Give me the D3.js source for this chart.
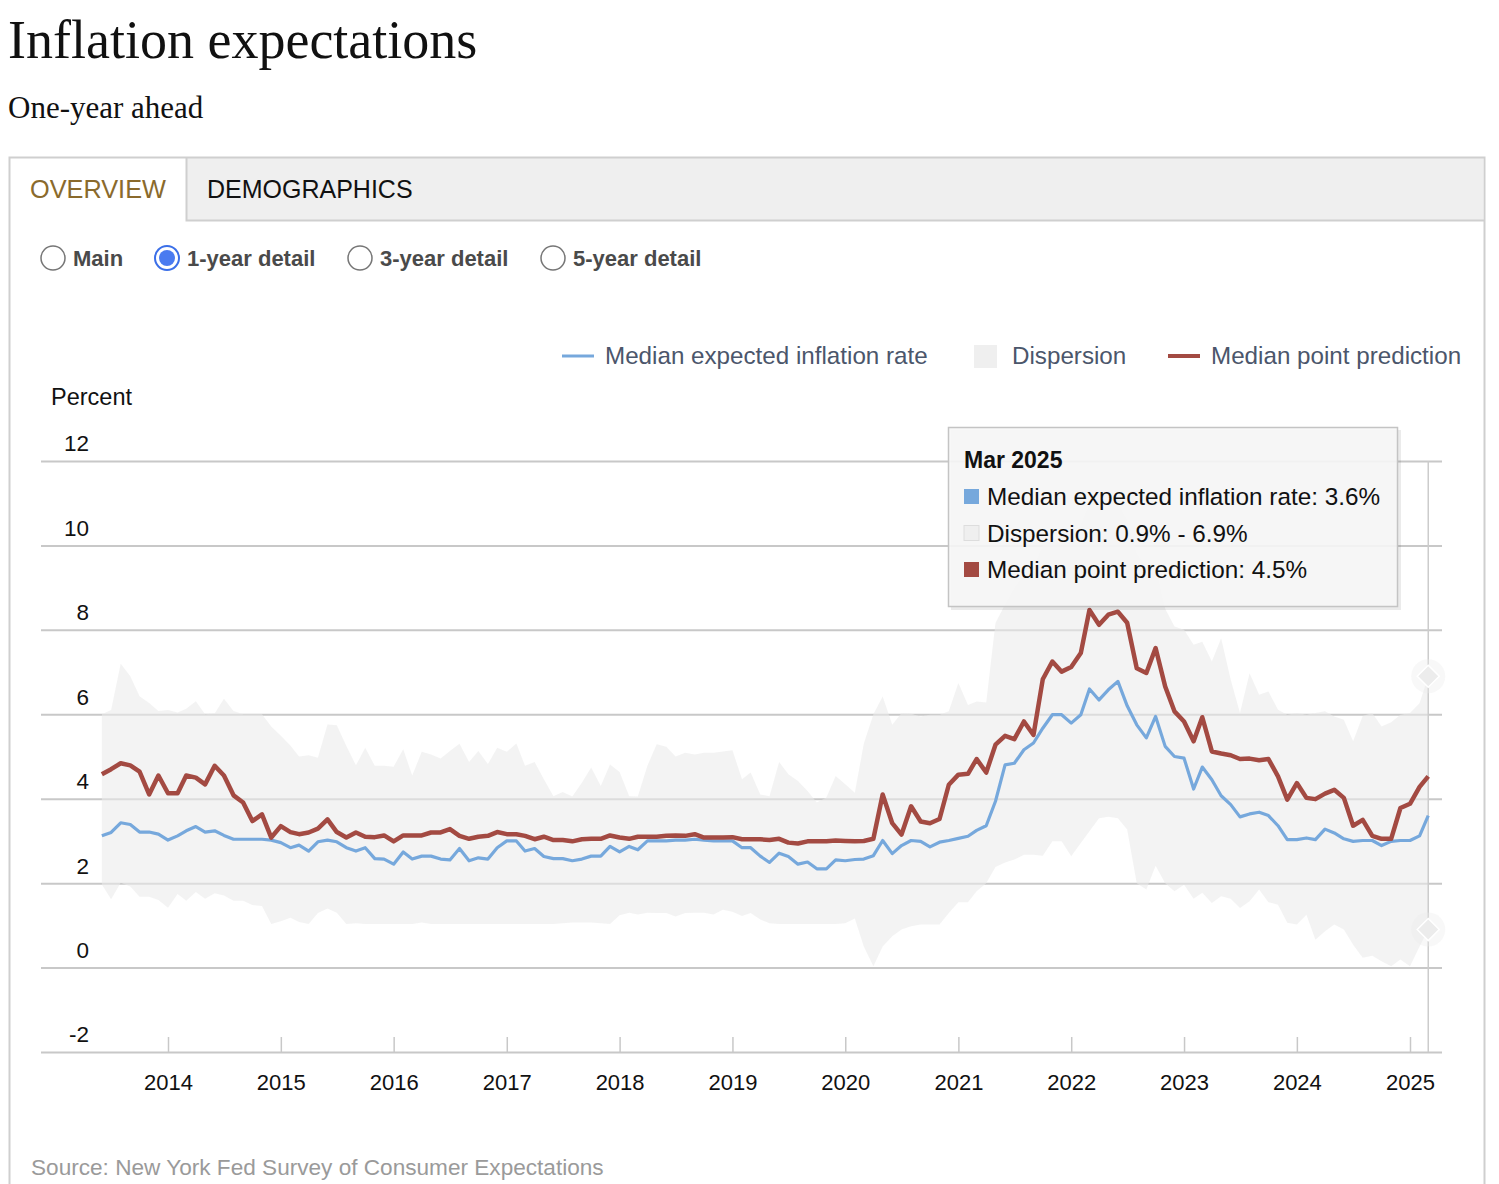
<!DOCTYPE html>
<html><head><meta charset="utf-8">
<script src="https://cdn.jsdelivr.net/npm/d3@7/dist/d3.min.js"></script>
<style>body{margin:0;background:#fff;} svg{display:block;}</style>
</head><body>
<svg id="c" width="1499" height="1184"></svg>
<script>
// ---- data (monthly, Jun 2013 - Mar 2025) ----
const startYear = 2013, startMonth = 5; // June 2013
const medianExpected = [
3.12,3.20,3.43,3.39,3.21,3.21,3.16,3.02,3.12,3.24,3.34,3.21,3.24,3.13,3.04,3.04,3.04,3.04,3.02,2.96,
2.84,2.90,2.76,2.98,3.02,2.98,2.84,2.76,2.84,2.58,2.57,2.45,2.74,2.57,2.64,2.64,2.57,2.55,2.82,2.53,
2.60,2.57,2.84,3.00,3.00,2.76,2.82,2.63,2.58,2.58,2.53,2.57,2.64,2.64,2.87,2.74,2.87,2.79,3.00,3.00,
3.00,3.02,3.02,3.04,3.02,3.00,3.00,3.00,2.84,2.84,2.64,2.49,2.71,2.63,2.45,2.50,2.34,2.34,2.55,2.53,
2.56,2.57,2.65,3.01,2.70,2.89,3.01,2.99,2.86,2.97,3.01,3.06,3.11,3.25,3.36,3.94,4.80,4.84,5.16,5.32,
5.67,5.99,5.99,5.79,5.99,6.60,6.34,6.58,6.78,6.20,5.75,5.44,5.95,5.24,5.00,4.96,4.23,4.75,4.45,4.07,
3.86,3.57,3.64,3.68,3.60,3.36,3.03,3.03,3.07,3.03,3.28,3.19,3.05,2.99,3.01,3.01,2.89,2.99,3.01,3.01,
3.12,3.60];
const pointPrediction = [
4.58,4.70,4.84,4.79,4.64,4.10,4.55,4.13,4.13,4.55,4.50,4.34,4.78,4.55,4.08,3.91,3.47,3.63,3.08,3.35,
3.21,3.16,3.20,3.29,3.51,3.21,3.08,3.20,3.10,3.09,3.13,2.99,3.13,3.13,3.13,3.20,3.20,3.28,3.12,3.05,
3.10,3.12,3.21,3.16,3.16,3.12,3.04,3.10,3.02,3.02,2.99,3.04,3.05,3.05,3.13,3.08,3.05,3.10,3.10,3.10,
3.12,3.13,3.12,3.16,3.08,3.08,3.08,3.09,3.04,3.04,3.04,3.02,3.05,2.96,2.94,2.99,2.99,2.99,3.01,3.00,
2.99,3.00,3.05,4.10,3.42,3.15,3.82,3.46,3.42,3.52,4.33,4.57,4.59,4.94,4.62,5.28,5.49,5.41,5.83,5.51,
6.83,7.25,7.01,7.12,7.45,8.47,8.12,8.36,8.43,8.17,7.09,6.98,7.57,6.66,6.07,5.83,5.36,5.93,5.12,5.07,
5.03,4.94,4.95,4.91,4.94,4.53,3.98,4.37,4.02,3.99,4.12,4.21,4.02,3.36,3.50,3.12,3.05,3.05,3.78,3.88,
4.28,4.53];
const dispersionLow = [
1.97,1.62,2.01,1.92,1.68,1.68,1.60,1.42,1.74,1.58,1.79,1.63,1.76,1.71,1.58,1.58,1.48,1.46,1.03,1.10,
1.18,1.08,1.03,1.29,1.40,1.30,1.03,1.05,1.03,1.03,1.03,1.03,1.03,1.03,1.07,1.03,1.03,1.03,1.03,1.03,
1.03,1.03,1.03,1.03,1.03,1.03,1.03,1.03,1.03,1.05,1.07,1.07,1.07,1.05,1.03,1.24,1.30,1.26,1.30,1.29,
1.29,1.21,1.29,1.30,1.30,1.26,1.37,1.32,1.22,1.29,1.14,1.05,1.03,1.03,1.03,1.03,1.03,1.03,1.03,1.05,
1.16,0.50,0.03,0.50,0.74,0.90,0.98,1.02,1.02,1.02,1.29,1.55,1.55,1.81,2.00,2.38,2.49,2.56,2.67,2.67,
2.65,2.99,2.99,2.64,2.95,3.23,3.54,3.57,3.54,3.27,2.00,1.85,2.41,2.00,1.81,1.96,1.63,1.77,1.53,1.69,
1.63,1.41,1.57,1.85,1.55,1.49,1.06,1.02,1.25,0.66,0.86,1.02,0.90,0.54,0.23,0.28,0.15,0.03,0.19,0.03,
0.50,0.90];
const dispersionHigh = [
6.00,6.10,7.20,6.90,6.43,6.27,6.08,6.10,6.04,6.13,6.31,6.00,6.02,6.37,6.08,6.00,6.00,6.00,5.71,5.49,
5.26,5.00,5.03,4.97,5.76,5.74,5.25,4.79,5.21,4.78,4.78,4.76,5.17,4.55,5.11,5.05,4.95,5.13,5.30,4.87,
5.13,4.82,5.21,5.11,5.31,4.78,4.87,4.46,4.06,4.16,4.05,4.38,4.74,4.30,4.81,4.63,4.06,4.05,4.78,5.29,
5.23,5.00,5.09,5.05,5.09,5.09,5.12,5.15,4.46,4.62,4.10,4.06,4.87,4.58,4.42,4.18,3.91,4.03,4.54,4.34,
4.14,5.30,6.00,6.42,5.75,6.03,6.01,5.95,5.99,5.99,6.07,6.74,6.22,6.30,6.28,8.16,8.60,9.00,9.30,9.50,
10.0,10.2,10.0,10.1,10.5,11.0,11.0,11.2,11.0,10.6,9.80,9.50,9.50,8.50,8.08,8.00,7.65,7.72,7.25,7.80,
6.82,6.03,6.97,6.46,6.54,6.11,5.99,6.03,5.99,6.03,6.07,5.95,5.87,5.36,5.96,6.03,5.71,5.81,5.99,6.03,
6.26,6.90];
const yTickValues = [-2, 0, 2, 4, 6, 8, 10, 12];
const xTickYears = [2014,2015,2016,2017,2018,2019,2020,2021,2022,2023,2024,2025];
const legendItems = ["Median expected inflation rate", "Dispersion", "Median point prediction"];
const radioOptions = ["Main", "1-year detail", "3-year detail", "5-year detail"];
const tooltipTitle = "Mar 2025";

const months = medianExpected.map((_, i) => new Date(startYear, startMonth + i, 1));
const last = months.length - 1;

// ---- styles ----
const BLUE = "#76a8dc", RED = "#a34a42";
const SANS = "'Liberation Sans', Arial, sans-serif";
const SERIF = "'Liberation Serif', 'Times New Roman', serif";

const svg = d3.select("#c");

// ---- header ----
svg.append("text").attr("x", 8).attr("y", 58).attr("font-family", SERIF).attr("font-size", 54)
  .attr("fill", "#111").text("Inflation expectations");
svg.append("text").attr("x", 8).attr("y", 118).attr("font-family", SERIF).attr("font-size", 31)
  .attr("fill", "#111").text("One-year ahead");

// ---- frame & tabs ----
svg.append("rect").attr("x", 187).attr("y", 158).attr("width", 1296).attr("height", 62).attr("fill", "#efefef");
svg.append("path").attr("d", "M9.5,1184 V157.5 H1484.5 V1184").attr("fill", "none").attr("stroke", "#cfcfcf").attr("stroke-width", 2);
svg.append("path").attr("d", "M186.5,158 V220.5 H1484").attr("fill", "none").attr("stroke", "#cfcfcf").attr("stroke-width", 2);
svg.append("text").attr("x", 30).attr("y", 198).attr("font-family", SANS).attr("font-size", 25.3)
  .attr("fill", "#8a6a2c").text("OVERVIEW");
svg.append("text").attr("x", 207).attr("y", 198).attr("font-family", SANS).attr("font-size", 25)
  .attr("fill", "#111").text("DEMOGRAPHICS");

// ---- radio buttons ----
const radioX = [53, 167, 360, 553];
radioOptions.forEach((lab, i) => {
  const g = svg.append("g");
  const sel = i === 1;
  g.append("circle").attr("cx", radioX[i]).attr("cy", 258).attr("r", 12)
    .attr("fill", "#fff").attr("stroke", sel ? "#3b6fe8" : "#767676").attr("stroke-width", sel ? 2 : 1.5);
  if (sel) g.append("circle").attr("cx", radioX[i]).attr("cy", 258).attr("r", 8).attr("fill", "#4a7bf0");
  g.append("text").attr("x", radioX[i] + 20).attr("y", 266).attr("font-family", SANS).attr("font-size", 22)
    .attr("font-weight", "bold").attr("fill", "#4a4a4a").text(lab);
});

// ---- legend ----
const LEG = "#4b566b";
svg.append("line").attr("x1", 562).attr("x2", 594).attr("y1", 356).attr("y2", 356).attr("stroke", BLUE).attr("stroke-width", 3);
svg.append("text").attr("x", 605).attr("y", 364).attr("font-family", SANS).attr("font-size", 24.2).attr("fill", LEG).text(legendItems[0]);
svg.append("rect").attr("x", 974).attr("y", 345).attr("width", 23).attr("height", 23).attr("fill", "#efefef");
svg.append("text").attr("x", 1012).attr("y", 364).attr("font-family", SANS).attr("font-size", 24.2).attr("fill", LEG).text(legendItems[1]);
svg.append("line").attr("x1", 1168).attr("x2", 1200).attr("y1", 356).attr("y2", 356).attr("stroke", RED).attr("stroke-width", 4);
svg.append("text").attr("x", 1211).attr("y", 364).attr("font-family", SANS).attr("font-size", 24.2).attr("fill", LEG).text(legendItems[2]);

// ---- scales ----
const plotLeft = 41, plotRight = 1442;
const x = d3.scaleTime().domain([new Date(2014, 0, 1), new Date(2025, 0, 1)]).range([168, 1410]);
const y = d3.scaleLinear().domain([-2, 12]).range([1052, 461]);

svg.append("text").attr("x", 51).attr("y", 405).attr("font-family", SANS).attr("font-size", 23.5).attr("fill", "#111").text("Percent");

// grid + y labels
const yAxis = d3.axisLeft(y).tickValues(yTickValues).tickSize(-(plotRight - plotLeft)).tickPadding(0)
  .tickFormat(d => String(d));
const gy = svg.append("g").attr("transform", `translate(${plotLeft},0)`).call(yAxis);
gy.select(".domain").remove();
gy.selectAll(".tick line").attr("stroke", "#c8c8c8").attr("stroke-width", 2);
gy.selectAll(".tick text").attr("x", 48).attr("dy", "-0.45em").attr("text-anchor", "end")
  .attr("font-family", SANS).attr("font-size", 22.5).attr("fill", "#111");

// ---- dispersion band ----
const area = d3.area().x((d, i) => x(months[i])).y0((d, i) => y(dispersionLow[i])).y1((d, i) => y(dispersionHigh[i]));
svg.append("path").datum(months).attr("d", area).attr("fill", "rgb(234,234,234)").attr("fill-opacity", 0.58);

// x axis ticks (upward) + labels
const xAxis = d3.axisBottom(x).tickValues(xTickYears.map(yr => new Date(yr, 0, 1)))
  .tickFormat(d3.timeFormat("%Y")).tickSize(-15).tickPadding(22);
const gx = svg.append("g").attr("transform", "translate(0,1052)").call(xAxis);
gx.select(".domain").remove();
gx.selectAll(".tick line").attr("stroke", "#c8c8c8").attr("stroke-width", 1.5);
gx.selectAll(".tick text").attr("font-family", SANS).attr("font-size", 22).attr("fill", "#111");

// crosshair at last month
svg.append("line").attr("x1", x(months[last])).attr("x2", x(months[last])).attr("y1", y(12)).attr("y2", y(-2))
  .attr("stroke", "#cccccc").attr("stroke-width", 1.5);

// ---- lines ----
const lineGen = d3.line().x((d, i) => x(months[i])).y(d => y(d)).curve(d3.curveLinear);
svg.append("path").datum(medianExpected).attr("d", lineGen).attr("fill", "none").attr("stroke", BLUE)
  .attr("stroke-width", 3.2).attr("stroke-linejoin", "round");
svg.append("path").datum(pointPrediction).attr("d", lineGen).attr("fill", "none").attr("stroke", RED)
  .attr("stroke-width", 4.5).attr("stroke-linejoin", "round");

// hover markers on dispersion band
[dispersionHigh[last], dispersionLow[last]].forEach(v => {
  const cx = x(months[last]), cy = y(v);
  svg.append("circle").attr("cx", cx).attr("cy", cy).attr("r", 17).attr("fill", "#ececec").attr("fill-opacity", 0.35);
  svg.append("path").attr("d", `M${cx},${cy - 11}L${cx + 11},${cy}L${cx},${cy + 11}L${cx - 11},${cy}Z`)
    .attr("fill", "#ececec").attr("stroke", "#fff").attr("stroke-width", 1.5);
});

// ---- tooltip ----
const tt = svg.append("g");
tt.append("rect").attr("x", 951).attr("y", 430).attr("width", 450).attr("height", 180).attr("fill", "#000").attr("fill-opacity", 0.08);
tt.append("rect").attr("x", 948.5).attr("y", 427.5).attr("width", 449).attr("height", 179)
  .attr("fill", "#f7f7f7").attr("fill-opacity", 0.9).attr("stroke", "#c4c4c4").attr("stroke-width", 1.5);
tt.append("text").attr("x", 964).attr("y", 468).attr("font-family", SANS).attr("font-size", 23).attr("font-weight", "bold")
  .attr("fill", "#111").text(tooltipTitle);
const fmt = d3.format(".1f");
const rows = [
  {c: BLUE, t: `${legendItems[0]}: ${fmt(medianExpected[last])}%`},
  {c: "#efefef", t: `${legendItems[1]}: ${fmt(dispersionLow[last])}% - ${fmt(dispersionHigh[last])}%`},
  {c: RED, t: `${legendItems[2]}: ${fmt(pointPrediction[last])}%`}
];
rows.forEach((r, i) => {
  const by = 505 + i * 36.5;
  tt.append("rect").attr("x", 964).attr("y", by - 16).attr("width", 15).attr("height", 15).attr("fill", r.c)
    .attr("stroke", i === 1 ? "#dddddd" : "none");
  tt.append("text").attr("x", 987).attr("y", by).attr("font-family", SANS).attr("font-size", 24.3)
    .attr("fill", "#111").text(r.t);
});

// ---- source ----
svg.append("text").attr("x", 31).attr("y", 1175).attr("font-family", SANS).attr("font-size", 22.6)
  .attr("fill", "#9a9a9a").text("Source: New York Fed Survey of Consumer Expectations");
</script>
</body></html>
